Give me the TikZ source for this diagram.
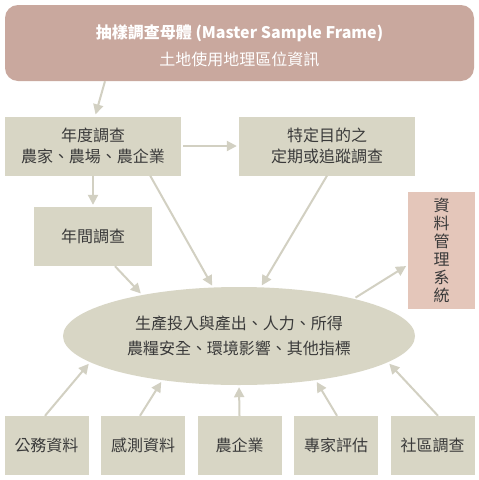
\documentclass[tikz,border=0pt]{standalone}
\usepackage{fontspec}
\setmainfont{Noto Sans CJK TC}
\usetikzlibrary{arrows.meta,shapes.geometric,calc}
\definecolor{topc}{HTML}{C9A89E}
\definecolor{boxc}{HTML}{D8D6C5}
\definecolor{dmsc}{HTML}{E4C6BA}
\definecolor{arrc}{HTML}{D2D0C2}
\definecolor{txtc}{HTML}{3A3A3A}
\tikzset{
  base/.style={inner sep=0pt, align=center, text=txtc, font=\fontsize{16}{21}\selectfont},
  box/.style={base, rectangle, fill=boxc},
  conn/.style={draw=arrc, line width=2pt, -{Triangle[length=10pt,width=10pt]}, shorten >=2pt}
}
\begin{document}
\begin{tikzpicture}[x=1pt,y=-1pt]
\useasboundingbox (0,0) rectangle (479,480);
\fill[white] (0,0) rectangle (479,480);
\node[base, rectangle, rounded corners=13pt, fill=topc, minimum width=469pt, minimum height=76pt] (top) at (239.5,43) {};
\node[base, text=white, font=\fontsize{16}{27}\selectfont] (toptxt) at (239.5,46)
  {\textbf{抽樣調查母體 (Master Sample Frame)}\\土地使用地理區位資訊};
\node[box, minimum width=176pt, minimum height=59pt] (ann) at (93,146) {年度調查\\農家、農場、農企業};
\node[box, minimum width=176pt, minimum height=59pt] (spec) at (327,146) {特定目的之\\定期或追蹤調查};
\node[box, minimum width=118pt, minimum height=59pt] (inter) at (93,236.5) {年間調查};
\node[base, rectangle, fill=dmsc, minimum width=67pt, minimum height=117pt, font=\fontsize{16}{18}\selectfont] (dms) at (441.5,250.5) {資\\料\\管\\理\\系\\統};
\node[base, ellipse, fill=boxc, minimum width=352pt, minimum height=98pt, font=\fontsize{16}{25}\selectfont] (ell) at (239,336) {生產投入與產出、人力、所得\\農糧安全、環境影響、其他指標};
\node[box, minimum width=84pt, minimum height=59pt] (b1) at (46.5,445.5) {公務資料};
\node[box, minimum width=84pt, minimum height=59pt] (b2) at (143,445.5) {感測資料};
\node[box, minimum width=84pt, minimum height=59pt] (b3) at (239.5,445.5) {農企業};
\node[box, minimum width=84pt, minimum height=59pt] (b4) at (336,445.5) {專家評估};
\node[box, minimum width=84pt, minimum height=59pt] (b5) at (432.5,445.5) {社區調查};

\draw[conn] ([xshift=-134.5pt]top.south) -- ([xshift=2pt]ann.north);
\draw[conn, shorten <=2pt] (ann.east) -- (spec.west);
\draw[conn] (ann.south) -- (inter.north);
\draw[conn] ([xshift=22pt]inter.south) -- (ell.157);
\draw[conn] ([xshift=-31pt]ann.south east) -- (ell.118);
\draw[conn] (spec.south) -- (ell.66);
\draw[conn, shorten <=2pt] (ell.18) -- ([yshift=-14.5pt]dms.west);
\draw[conn] ([xshift=-1.5pt]b1.north) -- (ell.190);
\draw[conn] ([xshift=-3pt]b2.north) -- (ell.-150);
\draw[conn] (b3.north) -- (ell.south);
\draw[conn] ([xshift=1pt]b4.north) -- (ell.-30);
\draw[conn] ([xshift=5.5pt]b5.north) -- (ell.-10);
\end{tikzpicture}
\end{document}
